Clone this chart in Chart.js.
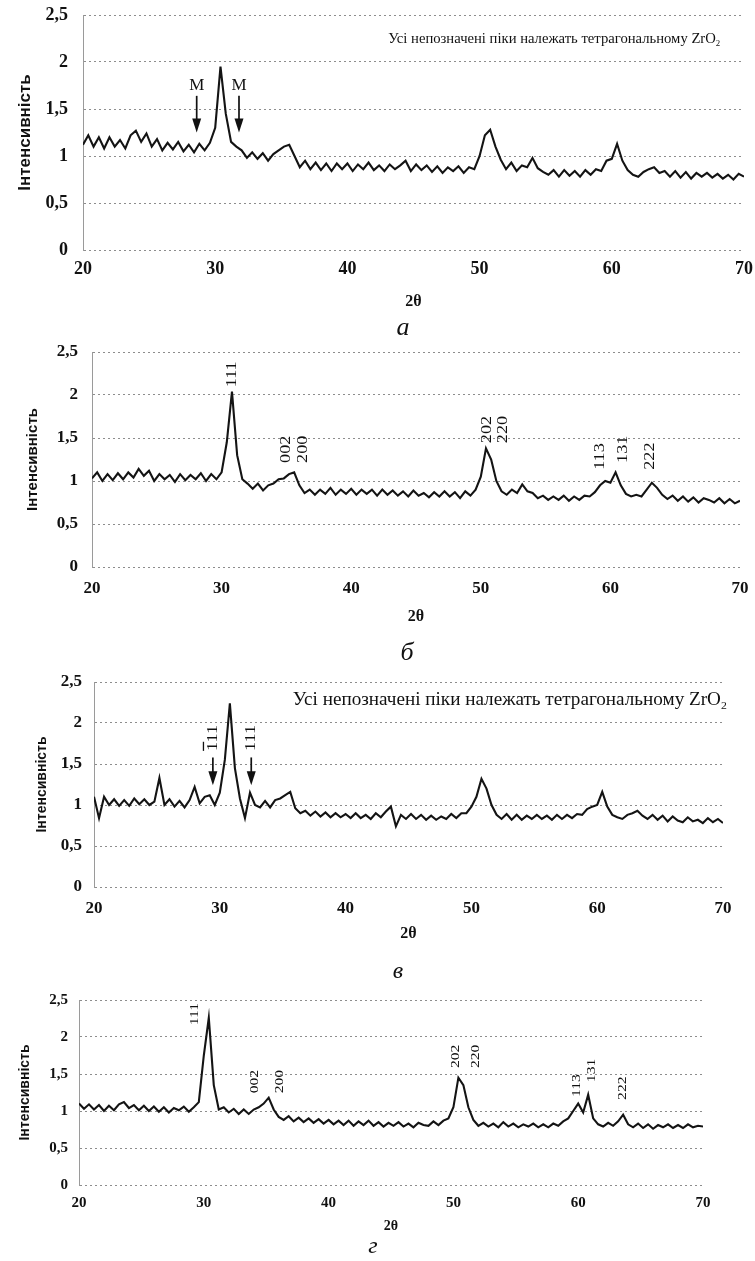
<!DOCTYPE html>
<html>
<head>
<meta charset="utf-8">
<script src="https://cdn.jsdelivr.net/npm/chart.js@4.4.1/dist/chart.umd.min.js"></script>
<style>
html, body { margin: 0; padding: 0; background: #fff; }
body { width: 755px; height: 1261px; position: relative; overflow: hidden; }
.panel { position: absolute; left: 0; width: 755px; }
</style>
</head>
<body>
<div class="panel" style="top:0;height:340px"><canvas id="chartA"></canvas></div>
<div class="panel" style="top:340px;height:325px"><canvas id="chartB"></canvas></div>
<div class="panel" style="top:665px;height:320px"><canvas id="chartC"></canvas></div>
<div class="panel" style="top:985px;height:276px"><canvas id="chartD"></canvas></div>
<script>
// 2θ grid, step 0.4°
const twoTheta = [
  20, 20.4, 20.8, 21.2, 21.6, 22, 22.4, 22.8, 23.2, 23.6,
  24, 24.4, 24.8, 25.2, 25.6, 26, 26.4, 26.8, 27.2, 27.6,
  28, 28.4, 28.8, 29.2, 29.6, 30, 30.4, 30.8, 31.2, 31.6,
  32, 32.4, 32.8, 33.2, 33.6, 34, 34.4, 34.8, 35.2, 35.6,
  36, 36.4, 36.8, 37.2, 37.6, 38, 38.4, 38.8, 39.2, 39.6,
  40, 40.4, 40.8, 41.2, 41.6, 42, 42.4, 42.8, 43.2, 43.6,
  44, 44.4, 44.8, 45.2, 45.6, 46, 46.4, 46.8, 47.2, 47.6,
  48, 48.4, 48.8, 49.2, 49.6, 50, 50.4, 50.8, 51.2, 51.6,
  52, 52.4, 52.8, 53.2, 53.6, 54, 54.4, 54.8, 55.2, 55.6,
  56, 56.4, 56.8, 57.2, 57.6, 58, 58.4, 58.8, 59.2, 59.6,
  60, 60.4, 60.8, 61.2, 61.6, 62, 62.4, 62.8, 63.2, 63.6,
  64, 64.4, 64.8, 65.2, 65.6, 66, 66.4, 66.8, 67.2, 67.6,
  68, 68.4, 68.8, 69.2, 69.6, 70
];

// а
const intensityA = [
  1.12, 1.22, 1.1, 1.2, 1.08, 1.2, 1.1, 1.17, 1.08, 1.22,
  1.27, 1.15, 1.24, 1.1, 1.18, 1.06, 1.14, 1.07, 1.15, 1.05,
  1.12, 1.04, 1.13, 1.06, 1.14, 1.3, 1.95, 1.45, 1.15, 1.1,
  1.06, 0.98, 1.04, 0.97, 1.03, 0.95, 1.02, 1.06, 1.1, 1.12,
  1.0, 0.88, 0.95, 0.86, 0.93, 0.85, 0.92, 0.84, 0.92, 0.86,
  0.92, 0.84, 0.91, 0.86, 0.93, 0.85, 0.9, 0.84, 0.91, 0.86,
  0.9, 0.95, 0.84, 0.91, 0.85, 0.9, 0.83, 0.89, 0.82, 0.88,
  0.84, 0.89, 0.82, 0.88, 0.86, 1.0, 1.22, 1.28, 1.1, 0.96,
  0.86, 0.93, 0.84, 0.9, 0.88, 0.98, 0.87, 0.83, 0.8, 0.85,
  0.78, 0.85, 0.79, 0.84, 0.78, 0.85, 0.8, 0.86, 0.84, 0.95,
  0.97, 1.13, 0.95, 0.85, 0.8, 0.78, 0.83, 0.86, 0.88, 0.82,
  0.84, 0.78, 0.84, 0.77, 0.83, 0.76, 0.82, 0.78, 0.82, 0.77,
  0.81, 0.76, 0.8, 0.75, 0.81, 0.78
];

// б
const intensityB = [
  1.03, 1.1, 1.0, 1.08, 1.01, 1.09, 1.02, 1.1, 1.04, 1.14,
  1.06, 1.12, 1.0, 1.08, 1.02, 1.07, 0.99, 1.08, 1.01, 1.07,
  1.02, 1.09, 1.0, 1.08, 1.02, 1.1, 1.45, 2.04, 1.3, 1.02,
  0.97, 0.91, 0.97, 0.89, 0.95, 0.97, 1.02, 1.03, 1.08, 1.1,
  0.95, 0.86, 0.9, 0.84, 0.9, 0.85, 0.92, 0.84, 0.9, 0.85,
  0.91, 0.84, 0.9, 0.85, 0.9, 0.83, 0.9, 0.84, 0.89, 0.83,
  0.88, 0.82, 0.89, 0.83, 0.86, 0.81, 0.87, 0.82, 0.88, 0.82,
  0.87, 0.8, 0.88, 0.83, 0.9, 1.05, 1.38, 1.25, 1.0, 0.88,
  0.84, 0.9, 0.86, 0.96, 0.88, 0.86, 0.8, 0.83, 0.78, 0.82,
  0.78, 0.83, 0.77, 0.82, 0.78, 0.83, 0.82, 0.87, 0.95, 1.0,
  0.98, 1.1, 0.95, 0.85, 0.82, 0.84, 0.82, 0.9, 0.98, 0.92,
  0.84, 0.79, 0.83, 0.77, 0.82, 0.76, 0.81, 0.75, 0.8, 0.78,
  0.75, 0.8, 0.74, 0.79, 0.74, 0.77
];

// в
const intensityC = [
  1.1, 0.84, 1.1, 1.0, 1.07, 0.99, 1.06, 0.99, 1.08, 1.01,
  1.07, 1.0, 1.04, 1.33, 1.0, 1.07, 0.98, 1.05, 0.97, 1.06,
  1.22, 1.02, 1.1, 1.12, 1.0, 1.15, 1.55, 2.24, 1.45, 1.08,
  0.84, 1.15, 1.0, 0.97, 1.05, 0.97, 1.06, 1.08, 1.12, 1.16,
  0.96, 0.9, 0.93, 0.87, 0.92, 0.86, 0.91, 0.85, 0.9, 0.85,
  0.89, 0.84, 0.9, 0.84, 0.88, 0.83, 0.9, 0.85, 0.92, 0.98,
  0.74, 0.88, 0.83, 0.89, 0.83, 0.88, 0.82, 0.87, 0.82, 0.86,
  0.83, 0.89, 0.84, 0.9, 0.9, 0.98, 1.1, 1.32, 1.2, 1.0,
  0.88, 0.83, 0.89, 0.82, 0.88, 0.82, 0.87, 0.83, 0.88, 0.83,
  0.87, 0.82, 0.88, 0.83, 0.88, 0.84, 0.89, 0.88, 0.95, 0.98,
  1.0, 1.16, 0.98, 0.88, 0.85, 0.83, 0.88, 0.9, 0.93, 0.87,
  0.83, 0.88, 0.82, 0.87, 0.8, 0.86, 0.81, 0.79, 0.85, 0.8,
  0.82, 0.78, 0.84, 0.79, 0.83, 0.78
];

// г
const intensityD = [
  1.1, 1.03, 1.09, 1.02, 1.08, 1.0, 1.07, 1.01, 1.09, 1.12,
  1.04, 1.08, 1.01, 1.07, 1.0, 1.06, 0.99, 1.05, 0.98, 1.04,
  1.01, 1.06, 0.99, 1.05, 1.12, 1.75, 2.26, 1.35, 1.02, 1.05,
  0.98, 1.03, 0.96, 1.02, 0.96, 1.02, 1.05, 1.1, 1.18, 1.02,
  0.92, 0.88, 0.93, 0.86, 0.91, 0.85, 0.9, 0.84, 0.89, 0.83,
  0.88, 0.82, 0.87, 0.81, 0.87, 0.8, 0.86, 0.81, 0.87, 0.8,
  0.85, 0.79, 0.84, 0.8, 0.85, 0.79, 0.83, 0.78, 0.84, 0.81,
  0.8, 0.86, 0.81, 0.87, 0.9, 1.05, 1.45, 1.35, 1.05, 0.88,
  0.8, 0.84, 0.79, 0.83, 0.78, 0.85, 0.79, 0.83, 0.78, 0.82,
  0.79, 0.83, 0.78, 0.82, 0.78, 0.83, 0.8, 0.86, 0.9, 1.0,
  1.1, 0.98, 1.22, 0.9, 0.82, 0.79, 0.84, 0.8, 0.86, 0.95,
  0.82, 0.78, 0.83, 0.77, 0.82, 0.76, 0.81, 0.78, 0.82, 0.77,
  0.81, 0.77, 0.82, 0.78, 0.8, 0.79
];

const yTickLabels = ['0', '0,5', '1', '1,5', '2', '2,5'];
const xTickLabels = ['20', '30', '40', '50', '60', '70'];

// peak indices: [label, 2θ, intensity where the label starts]
const hklB = [['111', 30.85, 2.09], ['002', 35.0, 1.21], ['200', 36.3, 1.21], ['202', 50.5, 1.44],
              ['220', 51.7, 1.44], ['113', 59.2, 1.13], ['131', 61.0, 1.21], ['222', 63.1, 1.13]];
const hklD = [['111', 29.3, 2.16], ['002', 34.1, 1.24], ['200', 36.1, 1.24], ['202', 50.2, 1.58],
              ['220', 51.8, 1.58], ['113', 59.9, 1.19], ['131', 61.1, 1.39], ['222', 63.6, 1.15]];
// monoclinic reflections marked with arrows
const monoA = [28.6, 31.8];
const monoC = [['1̄11', 29.45], ['111', 32.5]];
const noteText = 'Усі непозначені піки належать тетрагональному ZrO';

const SERIF = '"Liberation Serif", "Times New Roman", serif';

function vLabel(ctx, text, x, y, size, bar) {
  ctx.save();
  ctx.translate(x, y);
  ctx.rotate(-Math.PI / 2);
  ctx.scale(1.3, 1);
  ctx.font = size + 'px ' + SERIF;
  ctx.textAlign = 'left';
  ctx.textBaseline = 'middle';
  ctx.fillText(bar ? '111' : text, 0, 0);
  if (bar) {
    const w = ctx.measureText('1').width;
    ctx.fillRect(0, -size * 0.72, w, 1.3);
  }
  ctx.restore();
}

function arrowDown(ctx, x, yTop, yBot) {
  ctx.lineWidth = 1.7;
  ctx.beginPath();
  ctx.moveTo(x, yTop);
  ctx.lineTo(x, yBot - 10);
  ctx.stroke();
  ctx.beginPath();
  ctx.moveTo(x - 4.5, yBot - 14);
  ctx.lineTo(x + 4.5, yBot - 14);
  ctx.lineTo(x, yBot);
  ctx.closePath();
  ctx.fill();
}

function zrNote(ctx, right, cy, size, width) {
  ctx.save();
  const big = size + 'px ' + SERIF;
  const small = Math.round(size * 0.62) + 'px ' + SERIF;
  ctx.font = big;
  const w1 = ctx.measureText(noteText).width;
  ctx.font = small;
  const w2 = ctx.measureText('2').width;
  ctx.translate(right - width, cy);
  ctx.scale(width / (w1 + w2), 1);
  ctx.textAlign = 'left';
  ctx.textBaseline = 'middle';
  ctx.font = big;
  ctx.fillText(noteText, 0, 0);
  ctx.font = small;
  ctx.fillText('2', w1, size * 0.32);
  ctx.restore();
}

function xrdChart(id, values, L, drawNotes) {
  const points = twoTheta.map((t, i) => ({ x: t, y: values[i] }));
  const notes = {
    id: 'notes',
    afterDatasetsDraw(chart) {
      const ctx = chart.ctx;
      const sx = v => chart.scales.x.getPixelForValue(v);
      const sy = v => chart.scales.y.getPixelForValue(v);
      ctx.save();
      ctx.fillStyle = '#111';
      ctx.strokeStyle = '#111';
      drawNotes(ctx, sx, sy);
      ctx.font = 'italic ' + L.letterSize + 'px ' + SERIF;
      ctx.textAlign = 'center';
      ctx.textBaseline = 'middle';
      ctx.fillText(L.letter, L.letterX, L.letterY);
      ctx.restore();
    }
  };
  return new Chart(document.getElementById(id), {
    type: 'line',
    data: {
      datasets: [{
        data: points,
        borderColor: '#141414',
        borderWidth: 2.1,
        pointRadius: 0,
        tension: 0
      }]
    },
    options: {
      responsive: true,
      maintainAspectRatio: false,
      animation: false,
      events: [],
      layout: { padding: { top: L.padTop, left: L.padLeft, right: L.padRight, bottom: L.padBottom } },
      plugins: { legend: { display: false }, tooltip: { enabled: false } },
      scales: {
        x: {
          type: 'linear',
          min: 20,
          max: 70,
          afterFit: s => { s.height = L.xHeight; s.paddingLeft = 0; s.paddingRight = 0; },
          ticks: {
            stepSize: 10,
            maxRotation: 0,
            padding: L.xTickPad,
            color: '#111',
            font: { family: SERIF, weight: 'bold', size: L.tickSize },
            callback: (v, i) => xTickLabels[i]
          },
          grid: { display: false, drawTicks: false },
          border: { display: false },
          title: {
            display: true,
            text: '2θ',
            color: '#111',
            padding: 0,
            font: { family: SERIF, weight: 'bold', size: L.xTitleSize }
          }
        },
        y: {
          min: 0,
          max: 2.5,
          afterFit: s => { s.width = L.yWidth; s.paddingTop = 0; s.paddingBottom = 0; },
          ticks: {
            stepSize: 0.5,
            padding: L.yTickPad,
            color: '#111',
            font: { family: SERIF, weight: 'bold', size: L.tickSize },
            callback: (v, i) => yTickLabels[i]
          },
          grid: { color: '#8d8d8d', lineWidth: 1, drawTicks: false },
          border: { display: true, color: '#9a9a9a', width: 1, dash: [2, 3] },
          title: {
            display: true,
            text: 'Інтенсивність',
            color: '#111',
            padding: 0,
            font: { family: '"Liberation Sans", Arial, sans-serif', weight: 'bold', size: L.yTitleSize }
          }
        }
      }
    },
    plugins: [notes]
  });
}

xrdChart('chartA', intensityA, {
  padTop: 15, padLeft: 15, padRight: 11, padBottom: 29, yWidth: 68, yTickPad: 15,
  xHeight: 61, xTickPad: 9, tickSize: 18, yTitleSize: 17, xTitleSize: 16,
  letter: 'а', letterX: 403, letterY: 328, letterSize: 26
}, (ctx, sx, sy) => {
  zrNote(ctx, sx(68.2), sy(2.245), 15, 332);
  ctx.font = '17px ' + SERIF;
  ctx.textAlign = 'center';
  ctx.textBaseline = 'middle';
  monoA.forEach(t => {
    ctx.fillText('М', sx(t), sy(1.745));
    arrowDown(ctx, sx(t), sy(1.64), sy(1.25));
  });
});

xrdChart('chartB', intensityB, {
  padTop: 12, padLeft: 24, padRight: 15, padBottom: 39, yWidth: 68, yTickPad: 14,
  xHeight: 59, xTickPad: 11, tickSize: 17, yTitleSize: 15, xTitleSize: 16,
  letter: 'б', letterX: 407, letterY: 313, letterSize: 26
}, (ctx, sx, sy) => {
  hklB.forEach(([t, x, y]) => vLabel(ctx, t, sx(x), sy(y), 14, false));
});

xrdChart('chartC', intensityC, {
  padTop: 17, padLeft: 34, padRight: 32, padBottom: 42, yWidth: 60, yTickPad: 12,
  xHeight: 56, xTickPad: 11, tickSize: 17, yTitleSize: 14, xTitleSize: 16,
  letter: 'в', letterX: 398, letterY: 307, letterSize: 24
}, (ctx, sx, sy) => {
  zrNote(ctx, sx(70.3), sy(2.28), 18, 434);
  monoC.forEach(([t, x], i) => {
    vLabel(ctx, t, sx(x), sy(1.66), 14, i === 0);
    arrowDown(ctx, sx(x), sy(1.58), sy(1.24));
  });
});

xrdChart('chartD', intensityD, {
  padTop: 15, padLeft: 17, padRight: 52, padBottom: 26, yWidth: 62, yTickPad: 11,
  xHeight: 50, xTickPad: 9, tickSize: 15, yTitleSize: 14, xTitleSize: 14,
  letter: 'г', letterX: 373, letterY: 262, letterSize: 24
}, (ctx, sx, sy) => {
  hklD.forEach(([t, x, y]) => vLabel(ctx, t, sx(x), sy(y), 12, false));
});
</script>
</body>
</html>
